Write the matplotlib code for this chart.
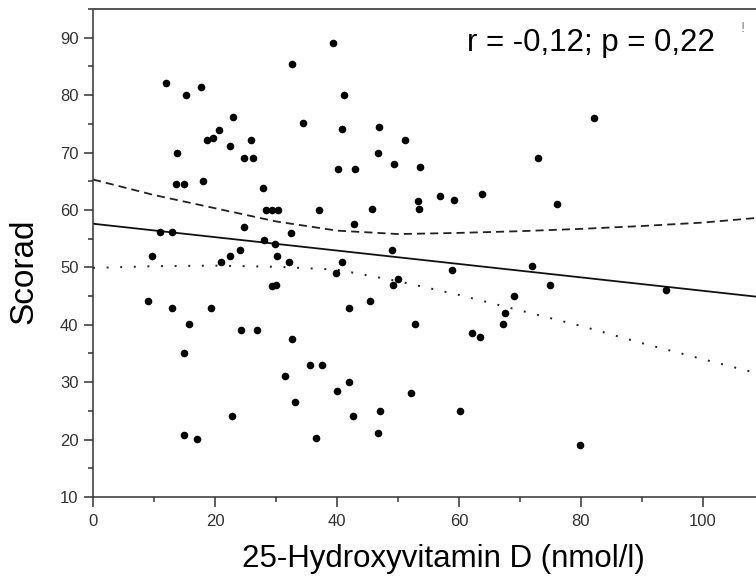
import matplotlib
matplotlib.use('Agg')
import matplotlib.pyplot as plt
from matplotlib.ticker import MultipleLocator

plt.rcParams['font.family'] = ['Liberation Sans', 'DejaVu Sans']

# diem du lieu doc tu hinh
vit_d = [11.9, 15.2, 17.7, 23.0, 20.6, 18.7, 19.6, 22.4, 25.9, 24.7,
         26.3, 13.7, 13.6, 15.0, 18.0, 27.8, 28.3, 29.3, 30.4, 32.6,
         34.5, 39.3, 37.0, 24.7, 11.0, 13.0, 28.1, 29.9, 32.4, 40.1,
         9.7, 24.1, 22.4, 30.1, 21.0, 32.1, 39.9, 29.3, 30.0, 9.0,
         13.0, 19.3, 15.7, 24.2, 26.9, 32.6, 15.0, 35.5, 37.6, 31.5,
         40.0, 33.1, 22.8, 15.0, 17.0, 36.6, 41.1, 40.9, 46.9, 51.1,
         46.8, 49.4, 53.6, 43.0, 73.0, 56.9, 59.2, 63.7, 53.3, 53.4,
         76.1, 45.8, 42.8, 49.1, 40.9, 50.0, 49.2, 58.9, 72.0, 74.9,
         69.1, 67.5, 67.3, 45.4, 41.9, 52.8, 62.1, 63.4, 41.9, 52.2,
         47.0, 42.7, 60.2, 46.8, 79.8, 82.1, 93.9]
scorad = [82.1, 80.1, 81.5, 76.2, 74.0, 72.1, 72.6, 71.1, 72.1, 69.1,
          69.1, 70.0, 64.6, 64.6, 65.0, 63.9, 60.0, 60.0, 60.0, 85.4,
          75.1, 89.0, 60.0, 57.1, 56.1, 56.1, 54.7, 54.0, 56.0, 67.1,
          52.0, 53.1, 52.0, 52.0, 51.0, 51.0, 49.1, 46.7, 47.0, 44.1,
          42.9, 43.0, 40.1, 39.1, 39.1, 37.6, 35.1, 33.0, 33.0, 31.0,
          28.5, 26.5, 24.1, 20.8, 20.1, 20.2, 80.1, 74.1, 74.5, 72.1,
          70.0, 68.0, 67.4, 67.1, 69.0, 62.5, 61.7, 62.8, 61.5, 60.1,
          61.1, 60.1, 57.5, 53.1, 51.0, 48.0, 47.0, 49.6, 50.3, 47.0,
          45.0, 42.1, 40.1, 44.2, 43.0, 40.1, 38.6, 37.8, 30.1, 28.1,
          25.0, 24.1, 25.0, 21.1, 19.1, 76.1, 46.1]

# duong hoi quy va khoang tin cay
fit_x = [0, 108.7]
fit_y = [57.6, 44.9]
band_x = [0, 10, 20, 30, 40, 50, 60, 70, 80, 90, 100, 108.7]
upper = [65.3, 62.6, 60.3, 58.0, 56.4, 55.8, 56.0, 56.3, 56.7, 57.2, 57.8, 58.6]
lower = [49.9, 50.2, 50.3, 50.1, 49.6, 47.6, 45.2, 42.5, 39.8, 36.8, 34.0, 31.6]

fig = plt.figure(figsize=(7.56, 5.79), dpi=100)
ax = fig.add_axes([93 / 756, 82 / 579, 663 / 756, 488 / 579])

ax.plot(band_x, upper, color='#222222', lw=1.3, linestyle=(0, (4.5, 2.8)))
ax.plot(band_x, lower, color='#222222', lw=1.4, linestyle=(0, (1, 6)))
ax.plot(fit_x, fit_y, color='#111111', lw=1.3)
ax.scatter(vit_d, scorad, s=20, color='black', zorder=3)

ax.set_xlim(0, 108.7)
ax.set_ylim(10, 95)
ax.xaxis.set_major_locator(MultipleLocator(20))
ax.xaxis.set_minor_locator(MultipleLocator(10))
ax.yaxis.set_major_locator(MultipleLocator(10))
ax.yaxis.set_minor_locator(MultipleLocator(5))
ax.tick_params(which='major', length=7, width=1.1, color='#333333',
               labelsize=12, labelcolor='#333333')
ax.tick_params(axis='x', which='major', pad=5)
ax.tick_params(axis='y', which='major', length=6.5, pad=4)
ax.tick_params(which='minor', length=3.5, width=1.1, color='#333333')

for side in ['left', 'bottom']:
    ax.spines[side].set_color('#333333')
    ax.spines[side].set_linewidth(1.1)
ax.spines['top'].set_color('#555555')
ax.spines['top'].set_linewidth(1.4)
ax.spines['right'].set_visible(False)

ax.set_xlabel('25-Hydroxyvitamin D (nmol/l)', fontsize=22.5)
ax.xaxis.set_label_coords(0.529, -0.096)
ax.set_ylabel('Scorad', fontsize=24)
ax.yaxis.set_label_coords(-0.081, 0.463)

ax.text(61.3, 87.6, 'r = -0,12; p = 0,22', fontsize=22.5, va='baseline')
ax.text(106.2, 91.0, '!', fontsize=11, color='#888888', va='baseline')

fig.savefig('out.png', dpi=100)
